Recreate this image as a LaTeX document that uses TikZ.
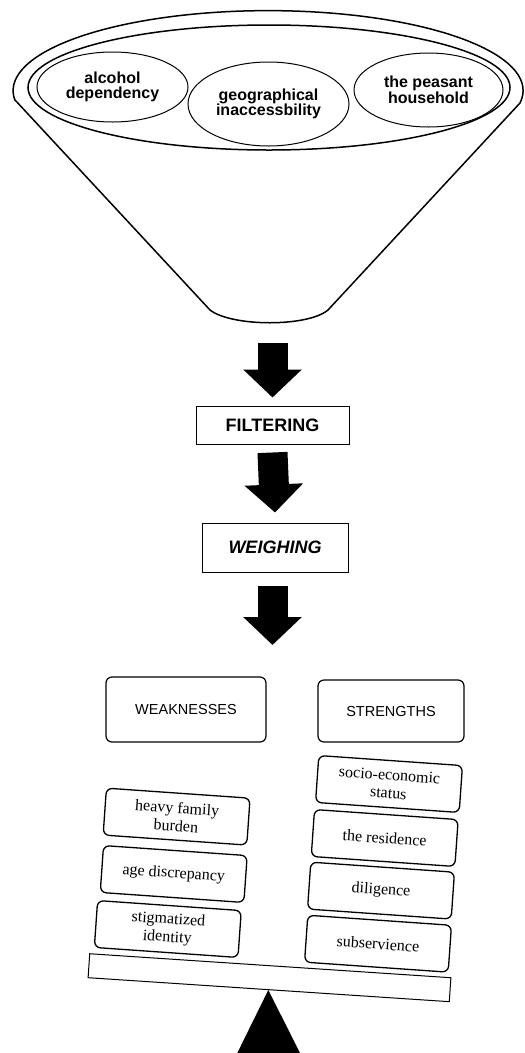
\documentclass[tikz,border=0pt]{standalone}
\usepackage{fontspec}
\setmainfont{Liberation Serif}
\newfontfamily\arialfont{Liberation Sans}
\usetikzlibrary{shapes.geometric,arrows.meta}

\tikzset{
  funnelline/.style={line width=1.5pt},
  factor/.style={ellipse, draw, line width=1pt, inner sep=0pt, align=center,
    font=\arialfont\fontsize{16}{15.5}\selectfont\bfseries},
  stagebox/.style={draw, line width=1pt, inner sep=0pt, align=center,
    font=\arialfont\fontsize{18}{20}\selectfont\bfseries},
  sidehead/.style={draw, line width=1.2pt, rounded corners=6pt, inner sep=0pt,
    align=center, font=\arialfont\fontsize{14.5}{16}\selectfont},
  item/.style={draw, line width=1.3pt, rounded corners=6pt, inner sep=0pt,
    minimum width=144pt, minimum height=47pt, rotate=-4, align=center,
    font=\fontsize{16}{18}\selectfont},
  blockarrow/.style={line width=30pt, -{Triangle[width=57pt,length=28pt]}}
}

\begin{document}
\begin{tikzpicture}[x=1pt,y=1pt]
\useasboundingbox (0,0) rectangle (525,-1053);

% funnel: upper rim of the outer ellipse, sides and rounded bottom
\draw[funnelline]
  (15,-100) -- (210,-310)
  .. controls (232,-327) and (308,-327) .. (328,-310)
  -- (520,-103)
  arc[start angle=-8.9, end angle=187.2, x radius=255, y radius=80];
\draw[funnelline] (269,-87.5) ellipse[x radius=241, y radius=62.5];
\coordinate (fnb) at (272.5,-323);

% factors inside the funnel
\node[factor, minimum width=151pt, minimum height=70pt] (alc) at (112.5,-87)
  {alcohol\\dependency};
\node[factor, minimum width=161pt, minimum height=84pt] (geo) at (268.5,-104)
  {geographical\\inaccessbility};
\node[factor, minimum width=149pt, minimum height=74pt] (hh) at (428.5,-90)
  {the peasant\\household};

% stages
\node[stagebox, minimum width=153pt, minimum height=38pt] (filter) at (272.5,-425)
  {FILTERING};
\node[stagebox, minimum width=146pt, minimum height=49pt] (weigh) at (275,-547.5)
  {\itshape WEIGHING};
\coordinate (scaletop) at (272.5,-645);

\draw[blockarrow] ([yshift=-20pt]fnb) -- ([yshift=8pt]filter.north);
\draw[blockarrow] ([yshift=-8pt]filter.south) -- ([yshift=10pt]weigh.north);
\draw[blockarrow] ([yshift=-13pt]weigh.south -| scaletop) -- (scaletop);

% headings of the two pans
\node[sidehead, minimum width=160pt, minimum height=65pt] (weak) at (186,-709.5)
  {WEAKNESSES};
\node[sidehead, minimum width=146pt, minimum height=62pt] (str) at (391,-711)
  {STRENGTHS};

% weaknesses
\node[item] (hfb) at (176.6,-816.6) {heavy family\\burden};
\node[item] (age) at (173.7,-874) {age discrepancy};
\node[item] (stig) at (167.8,-929) {stigmatized\\identity};

% strengths
\node[item] (soc) at (389,-784) {socio-economic\\status};
\node[item] (res) at (384.7,-838) {the residence};
\node[item] (dil) at (381,-890.6) {diligence};
\node[item] (sub) at (378,-943.7) {subservience};

% beam and fulcrum
\node[draw, line width=1pt, minimum width=362pt, minimum height=24pt, inner sep=0pt,
  rotate=-3.8] (beam) at (269.5,-977.7) {};
\fill (268.3,-990) -- (300,-1053) -- (237.3,-1053) -- cycle;
\end{tikzpicture}
\end{document}
